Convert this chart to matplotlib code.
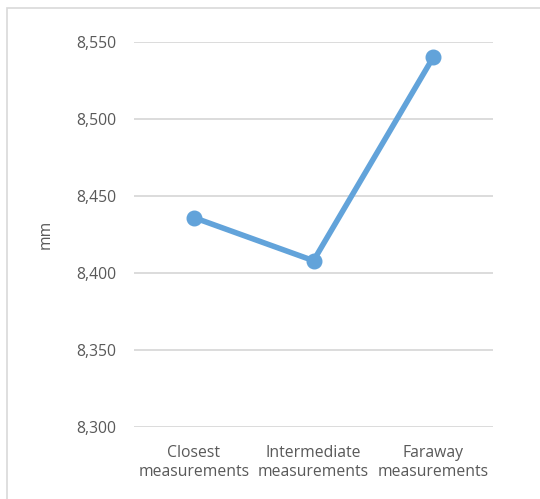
import matplotlib
matplotlib.use("Agg")
import matplotlib.pyplot as plt
from matplotlib.patches import Rectangle
from matplotlib.ticker import FuncFormatter

# -----------------------------
# Data
# -----------------------------
categories = ["Closest\nmeasurements", "Intermediate\nmeasurements", "Faraway\nmeasurements"]
values_mm = [8436, 8408, 8540]
y_ticks = [8300, 8350, 8400, 8450, 8500, 8550]

plt.rcParams["font.family"] = ["Open Sans", "DejaVu Sans"]

text_col = "#595959"
grid_col = "#d9d9d9"
line_col = "#62a3da"
fsize = 11.3

fig = plt.figure(figsize=(5.4, 4.99), dpi=100)

# chart frame (runs off the right and bottom edge)
fig.patches.append(Rectangle((7 / 540, -0.2), 1.2, 1 - 8 / 499 + 0.2,
                             transform=fig.transFigure, fill=False,
                             edgecolor=grid_col, linewidth=1.2))

ax = fig.add_axes([134 / 540, 1 - 427 / 499, (493 - 134) / 540, (427 - 42) / 499])

x = list(range(len(categories)))
ax.plot(x, values_mm, color=line_col, linewidth=4, marker="o",
        markersize=10.5, markerfacecolor=line_col, markeredgecolor=line_col,
        solid_capstyle="round", zorder=3)

ax.set_xlim(-0.5, len(categories) - 0.5)
ax.set_ylim(y_ticks[0], y_ticks[-1])
ax.set_yticks(y_ticks)
ax.yaxis.set_major_formatter(FuncFormatter(lambda v, p: f"{int(v):,}"))
ax.set_xticks(x)
ax.set_xticklabels(categories)

ax.grid(axis="y", color=grid_col, linewidth=1.3)
ax.set_axisbelow(True)
for s in ax.spines.values():
    s.set_visible(False)

ax.tick_params(axis="both", length=0, labelsize=fsize, colors=text_col)
ax.tick_params(axis="y", pad=13)
ax.tick_params(axis="x", pad=13)
for lbl in ax.get_xticklabels():
    lbl.set_linespacing(1.25)

ax.set_ylabel("mm", color=text_col, fontsize=fsize)
ax.yaxis.set_label_coords(-0.225, 0.5)

plt.savefig("out.png", dpi=100)
plt.close()
